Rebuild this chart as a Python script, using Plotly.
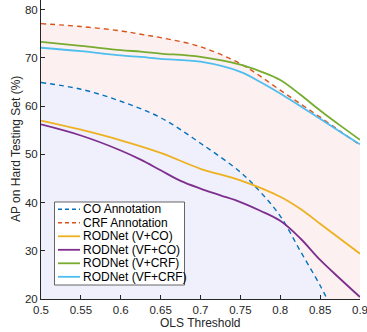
import plotly.graph_objects as go

# ---- data ----
x_co = [0.5, 0.55, 0.6, 0.65, 0.7, 0.75, 0.775, 0.8, 0.825, 0.85, 0.86]
co_annotation = [64.9, 63.5, 61.0, 57.6, 52.3, 46.3, 42.2, 37.2, 30.0, 22.8, 19.6]

x_crf = [0.5, 0.55, 0.6, 0.625, 0.65, 0.7, 0.75, 0.775, 0.8, 0.825, 0.85, 0.875, 0.9]
crf_annotation = [77.1, 76.5, 75.6, 74.9, 74.2, 72.3, 68.8, 66.2, 63.3, 60.5, 57.7, 54.8, 51.9]

x_vco = [0.5, 0.55, 0.6, 0.65, 0.7, 0.75, 0.8, 0.825, 0.85, 0.875, 0.9]
v_co = [57.0, 55.1, 52.9, 50.3, 47.0, 44.6, 41.2, 38.7, 35.6, 32.5, 29.4]

x_vfco = [0.5, 0.55, 0.6, 0.625, 0.65, 0.675, 0.7, 0.725, 0.75, 0.775, 0.8, 0.825, 0.85,
          0.875, 0.9]
vf_co = [56.2, 53.9, 50.8, 48.9, 46.7, 44.5, 42.9, 41.5, 40.1, 38.3, 36.2, 32.6, 28.1,
         24.2, 20.4]

x_crf_models = [0.5, 0.55, 0.6, 0.625, 0.65, 0.7, 0.75, 0.775, 0.8, 0.825, 0.85, 0.875, 0.9]
v_crf = [73.3, 72.5, 71.6, 71.3, 70.9, 70.2, 68.6, 67.2, 65.4, 62.4, 59.1, 56.0, 53.0]
vf_crf = [72.1, 71.4, 70.5, 70.2, 69.8, 69.2, 67.1, 65.0, 62.6, 60.0, 57.4, 54.7, 52.1]

x_ticks = [0.5, 0.55, 0.6, 0.65, 0.7, 0.75, 0.8, 0.85, 0.9]
x_ticktext = ["0.5", "0.55", "0.6", "0.65", "0.7", "0.75", "0.8", "0.85", "0.9"]
y_ticks = [20, 30, 40, 50, 60, 70, 80]
y_ticktext = ["20", "30", "40", "50", "60", "70", "80"]

names = ["CO Annotation", "CRF Annotation", "RODNet (V+CO)", "RODNet (VF+CO)",
         "RODNet (V+CRF)", "RODNet (VF+CRF)"]
colors = ["#0072BD", "#D95319", "#EDB120", "#7E2F8E", "#77AC30", "#4DBEEE"]
dashes = ["5px,4px", "5px,4px", "solid", "solid", "solid", "solid"]

FONT = "Liberation Sans, Arial, Helvetica, sans-serif"
TXT = "#262626"
W, H = 367, 332
ML, MR, MT, MB = 41, 7, 0, 33
PW, PH = W - ML - MR, H - MT - MB


def px2paper(px, py):
    return (px - ML) / PW, (H - MB - py) / PH


fig = go.Figure()

# shaded annotation regions (with dashed boundary)
fig.add_trace(go.Scatter(x=x_crf, y=crf_annotation, mode="lines", fill="tozeroy",
                         fillcolor="#FDF0F0",
                         line=dict(color=colors[1], width=1.4, dash=dashes[1], shape="spline"),
                         name=names[1], showlegend=False))
fig.add_trace(go.Scatter(x=x_co, y=co_annotation, mode="lines", fill="tozeroy",
                         fillcolor="#F0F0FC",
                         line=dict(color=colors[0], width=1.4, dash=dashes[0], shape="spline"),
                         name=names[0], showlegend=False))

for xs, ys, nm, c in [(x_vco, v_co, names[2], colors[2]), (x_vfco, vf_co, names[3], colors[3]),
                      (x_crf_models, v_crf, names[4], colors[4]),
                      (x_crf_models, vf_crf, names[5], colors[5])]:
    fig.add_trace(go.Scatter(x=xs, y=ys, mode="lines", name=nm, showlegend=False,
                             line=dict(color=c, width=1.8, shape="spline")))

# manual legend (MATLAB style)
shapes = []
annotations = []
bx0, by0 = px2paper(54.5, 285)
bx1, by1 = px2paper(184.5, 202)
shapes.append(dict(type="rect", xref="paper", yref="paper", x0=bx0, y0=by0, x1=bx1, y1=by1,
                   fillcolor="white", line=dict(color=TXT, width=0.7), layer="above"))
for i, (nm, c, d) in enumerate(zip(names, colors, dashes)):
    yc = 209.3 + i * 13.5
    lx0, ly = px2paper(58, yc)
    lx1, _ = px2paper(80, yc)
    shapes.append(dict(type="line", xref="paper", yref="paper", x0=lx0, x1=lx1, y0=ly, y1=ly,
                       line=dict(color=c, width=1.8 if d == "solid" else 1.4,
                                 dash="4px,3px" if d != "solid" else "solid"),
                       layer="above"))
    tx, _ = px2paper(81, yc)
    annotations.append(dict(text=nm, xref="paper", yref="paper", x=tx, y=ly, xanchor="left",
                            yanchor="middle", showarrow=False,
                            font=dict(family=FONT, size=12, color="#000000")))

# axis titles
tx, ty = px2paper(201, 323)
annotations.append(dict(text="OLS Threshold", xref="paper", yref="paper", x=tx, y=ty,
                        xanchor="center", yanchor="middle", showarrow=False,
                        font=dict(family=FONT, size=12, color=TXT)))
tx, ty = px2paper(15.5, 149.5)
annotations.append(dict(text="AP on Hard Testing Set (%)", xref="paper", yref="paper", x=tx, y=ty,
                        xanchor="center", yanchor="middle", textangle=-90, showarrow=False,
                        font=dict(family=FONT, size=12, color=TXT)))

fig.update_layout(
    width=W, height=H,
    margin=dict(l=ML, r=MR, t=MT, b=MB, pad=0),
    paper_bgcolor="white", plot_bgcolor="white",
    font=dict(family=FONT, size=11.5, color=TXT),
    shapes=shapes, annotations=annotations,
    xaxis=dict(range=[0.5, 0.9], tickvals=x_ticks, ticktext=x_ticktext, showgrid=False,
               zeroline=False, showline=True, linecolor=TXT, linewidth=1, ticks="inside",
               ticklen=4, tickcolor=TXT, tickwidth=1, tickfont=dict(size=11.5, color=TXT),
               automargin=False, ticklabeloverflow="allow"),
    yaxis=dict(range=[20, 82], tickvals=y_ticks, ticktext=y_ticktext, showgrid=False,
               zeroline=False, showline=True, linecolor=TXT, linewidth=1, ticks="inside",
               ticklen=4, tickcolor=TXT, tickwidth=1, tickfont=dict(size=11.5, color=TXT),
               automargin=False, ticklabeloverflow="allow"),
    showlegend=False,
)

fig.write_html("out.html", config={"displayModeBar": False},
               post_script="document.body.style.margin='0';document.body.style.overflow='hidden';")
